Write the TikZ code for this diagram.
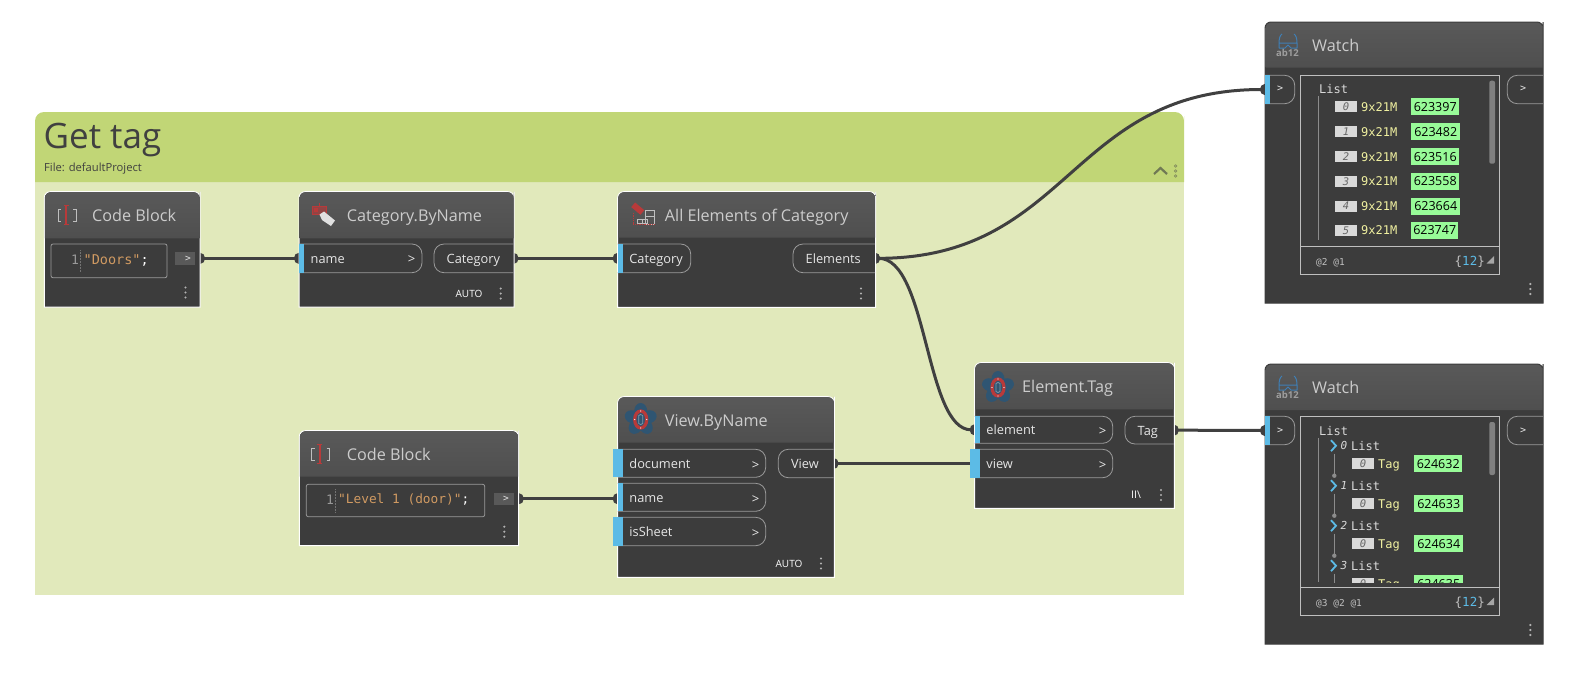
\documentclass[tikz,border=0pt]{standalone}
\usepackage{fontspec}
\setmainfont{Open Sans}
\newfontfamily\monof{DejaVu Sans Mono}
\usetikzlibrary{arrows.meta}
\definecolor{grouphead}{HTML}{C1D676}
\definecolor{groupbody}{HTML}{E1E9BB}
\definecolor{nodebody}{HTML}{3C3C3C}
\definecolor{headtop}{HTML}{595959}
\definecolor{headbot}{HTML}{4F4F4F}
\definecolor{portblue}{HTML}{5CBBE6}
\definecolor{pillline}{HTML}{9A9A9A}
\definecolor{wirecol}{HTML}{404040}
\definecolor{okgreen}{HTML}{98FB98}
\definecolor{typeyellow}{HTML}{F0F0A0}
\definecolor{codeorange}{HTML}{D09A62}
\definecolor{iconred}{HTML}{B83A3A}
\definecolor{petal}{HTML}{2F5572}
\definecolor{txt}{HTML}{E6E6E6}
\definecolor{glass}{HTML}{3F7FB5}
\pgfdeclarelayer{bg}\pgfdeclarelayer{wires}\pgfsetlayers{bg,wires,main}
\tikzset{
 x=1pt,y=-1pt,
 box/.style={inner sep=0pt,outer sep=0pt,anchor=north west},
 wire/.style={draw=wirecol,line width=3pt},
 tips/.style={{Ellipse[length=10pt,width=11pt]}-{Ellipse[length=10pt,width=11pt]},shorten <=-5pt,shorten >=-5pt},
 tipout/.style={{Ellipse[length=10pt,width=11pt]}-,shorten <=-5pt},
 title/.style={anchor=west,inner sep=0pt,text=white!80!black,text height=12pt,text depth=0pt,font=\fontsize{16.2}{18}\selectfont},
 lab/.style={anchor=west,inner sep=0pt,text=txt,text height=10pt,text depth=0pt,font=\fontsize{12.8}{15}\selectfont},
 chev/.style={inner sep=0pt,text=txt,font=\fontsize{13}{14}\selectfont},
 chevb/.style={chev,yshift=-1.5pt},
 mono/.style={anchor=west,inner sep=0pt,text height=9pt,text depth=0pt,font=\fontsize{12}{14}\monof},
 idx/.style={inner sep=0pt,outer sep=0pt,fill=white!85!black,minimum width=22pt,minimum height=11pt,text=black!60,font=\fontsize{10.5}{11}\monof\itshape},
 val/.style={anchor=north west,inner sep=0pt,fill=okgreen,minimum height=17pt,text=black,font=\fontsize{12.5}{14}\selectfont},
 small/.style={anchor=center,inner sep=0pt,text=white,font=\fontsize{10}{12}\selectfont},
}
\newcommand{\dynbox}[7][white]{%
 \node[box,minimum width={(#4-#2)*1pt},minimum height={(#5-#3)*1pt}] (#7) at (#2,#3) {};
 \path[fill=nodebody,draw=#1,line width=1pt,rounded corners=6pt] (#2,#5) [sharp corners] -- (#2,#3+6) [rounded corners=6pt] -- (#2,#3) -- (#4,#3) -- (#4,#3+6) [sharp corners] -- (#4,#5) -- cycle;
 \path[top color=headtop,bottom color=headbot,rounded corners=6pt] (#2+.5,#6) [sharp corners] -- (#2+.5,#3+6) [rounded corners=6pt] -- (#2+.5,#3+.5) -- (#4-.5,#3+.5) -- (#4-.5,#3+6) [sharp corners] -- (#4-.5,#6) -- cycle;
}
\newcommand{\inport}[7][0]{%
 \node[box,minimum width={(#5-#3)*1pt},minimum height={(#6-#4)*1pt}] (#2) at (#3,#4) {};
 \draw[pillline,line width=.8pt,rounded corners=10pt] (#3,#4) -- (#5,#4) -- (#5,#6) -- (#3,#6);
 \fill[portblue] (#3-#1,#4) rectangle (#3+5,#6);
 \node[lab] (#2-t) at ([xshift=11.5pt]#2.west) {#7};
}
\newcommand{\outport}[6]{%
 \node[box,minimum width={(#4-#2)*1pt},minimum height={(#5-#3)*1pt}] (#1) at (#2,#3) {};
 \draw[pillline,line width=.8pt,rounded corners=10pt] (#4,#3) -- (#2,#3) -- (#2,#5) -- (#4,#5);
 \node[lab] (#1-t) at ([xshift=12.5pt]#1.west) {#6};
}
\newcommand{\dotsv}[2]{\foreach \d in {-5,0,5}{\fill[white!70!black] (#1,#2+\d) circle (1.2pt);}}
\newcommand{\codeicon}[2]{%
 \draw[white!75!black,line width=.9pt] (#1-6,#2-6) -- (#1-9,#2-6) -- (#1-9,#2+6) -- (#1-6,#2+6);
 \draw[white!75!black,line width=.9pt] (#1+6,#2-6) -- (#1+9,#2-6) -- (#1+9,#2+6) -- (#1+6,#2+6);
 \draw[iconred,line width=1.6pt] (#1-1,#2-9.5) -- (#1-1,#2+9);
 \draw[iconred,line width=1pt] (#1-3.5,#2-9.5) -- (#1+1.5,#2-9.5) (#1-3.5,#2+9) -- (#1+1.5,#2+9);
}
\newcommand{\flower}[2]{%
 \foreach \a in {0,72,144,216,288}{\fill[petal,rotate around={\a:(#1,#2)}] (#1,#2-8.5) ellipse (6.5pt and 8pt);}
 \draw[iconred,line width=3.2pt] (#1,#2) ellipse (6pt and 8.5pt);
 \draw[petal!60!white,line width=.7pt] (#1-2,#2-4) -- (#1,#2-5) -- (#1+2,#2-4) -- (#1+2,#2+4) -- (#1,#2+5) -- (#1-2,#2+4) -- cycle;
 \foreach \p/\q in {0/-8.5,0/8.5,-6/0,6/0}{\fill[white] (#1+\p,#2+\q) circle (.6pt);}
}
\newcommand{\watchicon}[3]{%
 \draw[glass,line width=1pt,line join=round] (#1-6,#2-6) .. controls (#1-8,#2-5) and (#1-9,#2-1) .. (#1-9,#2+3) -- (#1-9,#2+8) -- (#1-3,#2+8) -- (#1,#2+5) -- (#1+3,#2+8) -- (#1+9,#2+8) -- (#1+9,#2+3) .. controls (#1+9,#2-1) and (#1+8,#2-5) .. (#1+6,#2-6) (#1-9,#2+3) -- (#1+9,#2+3);
 \node[inner sep=0pt,text=white!62!black,font=\fontsize{9.5}{10}\selectfont\bfseries] (#3) at (#1-.5,#2+12.5) {ab12};
}
\begin{document}
\begin{tikzpicture}
\useasboundingbox (0,0) rectangle (1588,686);
\begin{pgfonlayer}{bg}
 \fill[white] (0,0) rectangle (1588,686);
 \fill[groupbody] (35,170) rectangle (1184,594.5);
 \fill[grouphead,rounded corners=9pt] (35,182) [sharp corners] -- (35,125) [rounded corners=9pt] -- (35,112) -- (1184,112) -- (1184,125) [sharp corners] -- (1184,182) -- cycle;
\end{pgfonlayer}
\node[anchor=west,inner sep=0pt,text=black!75,text height=25.5pt,text depth=0pt,font=\fontsize{35}{40}\selectfont] (gtitle) at (43.5,136) {Get tag};
\node[anchor=west,inner sep=0pt,text=black!75,text height=8.5pt,text depth=0pt,font=\fontsize{11.2}{13}\selectfont] (gfile) at (44,167) {File: defaultProject};
\draw[black!45!grouphead!70!gray,line width=2.2pt] (1154,174) -- (1160.5,168) -- (1167,174);
\foreach \d in {-5,0,5}{\draw[black!35!grouphead!70!gray,line width=.6pt] (1175.7,171+\d) circle (1.3pt);}

% Code Block 1
\dynbox{44.3}{191.7}{200}{307}{238.3}{cb1}
\node[title] (cb1-t) at (92,215) {Code Block};
\codeicon{67}{215}
\node[box,minimum width=116pt,minimum height=33.7pt,draw=pillline,line width=.8pt,rounded corners=2pt] (cb1-in) at (51,244) {};
\node[mono,text=white!60!black,font=\fontsize{13}{15}\monof] (cb1-n) at (71,260) {1};
\draw[white!45!black,densely dotted,line width=.5pt] (80.5,250) -- (80.5,272);
\node[mono,text=codeorange,font=\fontsize{13.5}{16}\monof] (cb1-c) at (83.5,260) {"Doors"\textcolor{white}{;}};
\node[box,fill=white!35!black,minimum width=20pt,minimum height=13pt] (cb1-p) at (175,252) {};
\node[chev,font=\fontsize{9.5}{10}\monof] (cb1-pc) at (188,258.5) {>};
\dotsv{185.5}{292.5}

% Category.ByName
\dynbox{299}{191.7}{514}{307}{238.3}{cat}
\node[title] (cat-t) at (346.7,215) {Category.ByName};
\fill[iconred,opacity=.6] (312,206) rectangle (326,214);
\draw[iconred,line width=.9pt] (312,206) rectangle (326,214) (319,206) -- (319,203);
\fill[iconred] (314,208) rectangle (318,212);
\fill[white!88!black] (319.5,214.5) -- (324,211.5) -- (335,220.5) -- (331,226) -- (322,220) -- cycle;
\inport{catname}{299}{244}{422}{272.7}{name}
\node[chevb] (catname-c) at (411.5,258) {>};
\outport{catout}{434}{244}{513.5}{272.7}{Category}
\node[small] (cat-a) at (469,293.7) {AUTO};
\dotsv{500.7}{293.5}

% All Elements
\dynbox{617.7}{191.7}{875.7}{307.3}{237.7}{all}
\node[title] (all-t) at (664.7,215) {All Elements of Category};
\fill[iconred,rotate around={-40:(637,208)}] (632,205) rectangle (644,211);
\draw[white!75!black,line width=.9pt] (645,210) rectangle (654,224) (645,216.5) -- (654,216.5);
\draw[white!75!black,line width=.8pt] (637,219) rectangle (642,223) (642,219) rectangle (647,223);
\draw[iconred,densely dotted,line width=.7pt] (633,213) -- (633,224.5) -- (655,224.5);
\inport{allcat}{617.7}{244}{690.7}{272.7}{Category}
\outport{allout}{793}{244}{875}{272.7}{Elements}
\dotsv{861}{293.5}

% View.ByName
\dynbox{617.7}{396.7}{834.3}{577.3}{442.7}{vw}
\node[title] (vw-t) at (664.7,420) {View.ByName};
\flower{640.7}{419.5}
\inport[5]{vwdoc}{617.7}{449.3}{765.7}{477.3}{document}
\node[chevb] (vwdoc-c) at (755.5,464) {>};
\inport{vwname}{617.7}{483.3}{765.7}{511.3}{name}
\node[chevb] (vwname-c) at (755.5,498) {>};
\inport[5]{vwsheet}{617.7}{517.3}{765.7}{545.7}{isSheet}
\node[chevb] (vwsheet-c) at (755.5,532) {>};
\outport{vwout}{778.3}{449.3}{833.5}{477.7}{View}
\node[small] (vw-a) at (789,563.7) {AUTO};
\dotsv{821}{563.5}

% Element.Tag
\dynbox{974.7}{362.7}{1174.3}{508.3}{409.3}{et}
\node[title] (et-t) at (1022,386) {Element.Tag};
\flower{998}{387.5}
\inport{etel}{974.7}{416.3}{1112.7}{443.3}{element}
\node[chevb] (etel-c) at (1102.5,430) {>};
\inport[5]{etvw}{974.7}{449.3}{1112.7}{477.7}{view}
\node[chevb] (etvw-c) at (1102.5,464) {>};
\outport{etout}{1125}{416.3}{1173.8}{444}{Tag}
\node[small,font=\fontsize{10.5}{12}\selectfont] (et-l) at (1136,495) {II\textbackslash};
\dotsv{1161}{495}

% Code Block 2
\dynbox{299.3}{430.7}{518.7}{545.7}{476.7}{cb2}
\node[title] (cb2-t) at (346.7,454) {Code Block};
\codeicon{320.7}{454}
\node[box,minimum width=178.4pt,minimum height=32.4pt,draw=pillline,line width=.8pt,rounded corners=2pt] (cb2-in) at (306.3,484.3) {};
\node[mono,text=white!60!black,font=\fontsize{13}{15}\monof] (cb2-n) at (326,499.5) {1};
\draw[white!45!black,densely dotted,line width=.5pt] (335.5,489) -- (335.5,512);
\node[mono,text=codeorange,font=\fontsize{12.8}{15}\monof] (cb2-c) at (338,499) {"Level 1 (door)"\textcolor{white}{;}};
\node[box,fill=white!35!black,minimum width=20pt,minimum height=12pt] (cb2-p) at (494,492.7) {};
\node[chev,font=\fontsize{9.5}{10}\monof] (cb2-pc) at (506,499) {>};
\dotsv{504.3}{531.7}

% Watch 1
\dynbox[nodebody]{1265}{22}{1543}{303}{67.7}{w1}
\node[title] (w1-t) at (1312,45) {Watch};
\watchicon{1288}{40}{w1-ic}
\inport{w1in}{1265}{75.3}{1294.7}{103.7}{}
\node[chev,font=\fontsize{10}{12}\monof] (w1in-c) at (1280,89) {>};
\outport{w1out}{1507.3}{75.3}{1543}{103.7}{}
\node[chev,font=\fontsize{10}{12}\monof] (w1out-c) at (1523,89) {>};
\node[box,minimum width=199.4pt,minimum height=199.4pt,draw=white!75!black,line width=.8pt] (w1list) at (1300.3,75.3) {};
\draw[white!75!black,line width=.8pt] (w1list.west |- 0,246.3) -- (w1list.east |- 0,246.3);
\node[mono,text=white!85!black] (w1l) at (1319,89.3) {List};
\draw[white!55!black,line width=.8pt] (1318.3,96) -- (1318.3,240);
\foreach \i/\yy/\vv/\ww in {0/106.7/623397/48,1/131.7/623482/49,2/156.7/623516/48,3/181.3/623558/48,4/206/623664/49,5/230.3/623747/47}{
 \node[idx] (w1i\i) at (1346,\yy) {\i};
 \node[mono,text=typeyellow] (w1n\i) at (1361,\yy) {9x21M};
 \node[val,minimum width=\ww pt] (w1v\i) at (1411,\yy-8.5) {\vv};
}
\fill[white!50!black,rounded corners=2pt] (1489.3,80.7) rectangle (1495,163.7);
\node[mono,text=white!75!black,font=\fontsize{9.5}{11}\monof] (w1at) at (1316,261) {@2 @1};
\node[mono,anchor=east,text=white!75!black,font=\fontsize{12.5}{14}\monof] (w1c) at (1485,260.5) {\{\textcolor{portblue}{12}\}};
\fill[white!65!black] (1494,256) -- (1494,263.5) -- (1486.5,263.5) -- cycle;
\dotsv{1530.3}{289}

% Watch 2
\dynbox[nodebody]{1265}{364}{1543}{644}{410}{w2}
\node[title] (w2-t) at (1312,387) {Watch};
\watchicon{1288}{382}{w2-ic}
\inport{w2in}{1265}{416.3}{1294.7}{444.7}{}
\node[chev,font=\fontsize{10}{12}\monof] (w2in-c) at (1280,430.5) {>};
\outport{w2out}{1507.3}{416.3}{1543}{444.7}{}
\node[chev,font=\fontsize{10}{12}\monof] (w2out-c) at (1523,430.5) {>};
\node[box,minimum width=199.4pt,minimum height=199.4pt,draw=white!75!black,line width=.8pt] (w2list) at (1300.3,416.3) {};
\draw[white!75!black,line width=.8pt] (w2list.west |- 0,587.3) -- (w2list.east |- 0,587.3);
\node[mono,text=white!85!black] (w2l) at (1319,431) {List};
\draw[white!55!black,line width=.8pt] (1318.3,438) -- (1318.3,582);
\begin{scope}
\clip (1301,417) rectangle (1499,582);
\foreach \i/\yy/\vv/\ww in {0/445.7/624632/48,1/485.7/624633/49,2/525.7/624634/49,3/565.7/624635/49}{
 \draw[portblue,line width=1.8pt] (1331,\yy-5.5) -- (1336,\yy) -- (1331,\yy+5.5);
 \node[mono,text=white!85!black,font=\fontsize{11}{12}\monof\itshape] (w2x\i) at (1340.5,\yy-1) {\i};
 \node[mono,text=white!85!black] (w2l\i) at (1351,\yy) {List};
 \draw[white!55!black,line width=1pt] (1334.3,\yy+8) -- (1334.3,\yy+30);
 \fill[white!55!black] (1334.3,\yy+30) circle (2.2pt);
 \node[idx] (w2i\i) at (1363,\yy+18) {0};
 \node[mono,text=typeyellow] (w2n\i) at (1378,\yy+18) {Tag};
 \node[val,minimum width=\ww pt] (w2v\i) at (1414,\yy+9.5) {\vv};
}
\end{scope}
\node[mono,text=white!75!black,font=\fontsize{9.5}{11}\monof] (w2at) at (1316,602) {@3 @2 @1};
\node[mono,anchor=east,text=white!75!black,font=\fontsize{12.5}{14}\monof] (w2c) at (1485,602) {\{\textcolor{portblue}{12}\}};
\fill[white!65!black] (1494,597.5) -- (1494,605) -- (1486.5,605) -- cycle;
\fill[white!50!black,rounded corners=2pt] (1489.3,422) rectangle (1495,475);
\dotsv{1530.3}{630}

% Connectors
\begin{pgfonlayer}{wires}
 \draw[wire,tips] (catname.west -| cb1.east) -- (catname.west);
 \draw[wire,tips] (catout.east) -- (allcat.west);
 \draw[wire,tips] (allout.east) .. controls (1070,258) and (1070,89.5) .. (w1in.west);
 \draw[wire,tips] (allout.east) .. controls (928,258) and (925,430) .. (etel.west);
 \draw[wire,tipout] (vwout.east) -- (etvw.west);
 \draw[wire,tips] (cb2-p -| cb2.east) -- (cb2-p -| vwname.west);
 \draw[wire,tips] (etout.east) -- (w2in.west);
\end{pgfonlayer}
\end{tikzpicture}
\end{document}
